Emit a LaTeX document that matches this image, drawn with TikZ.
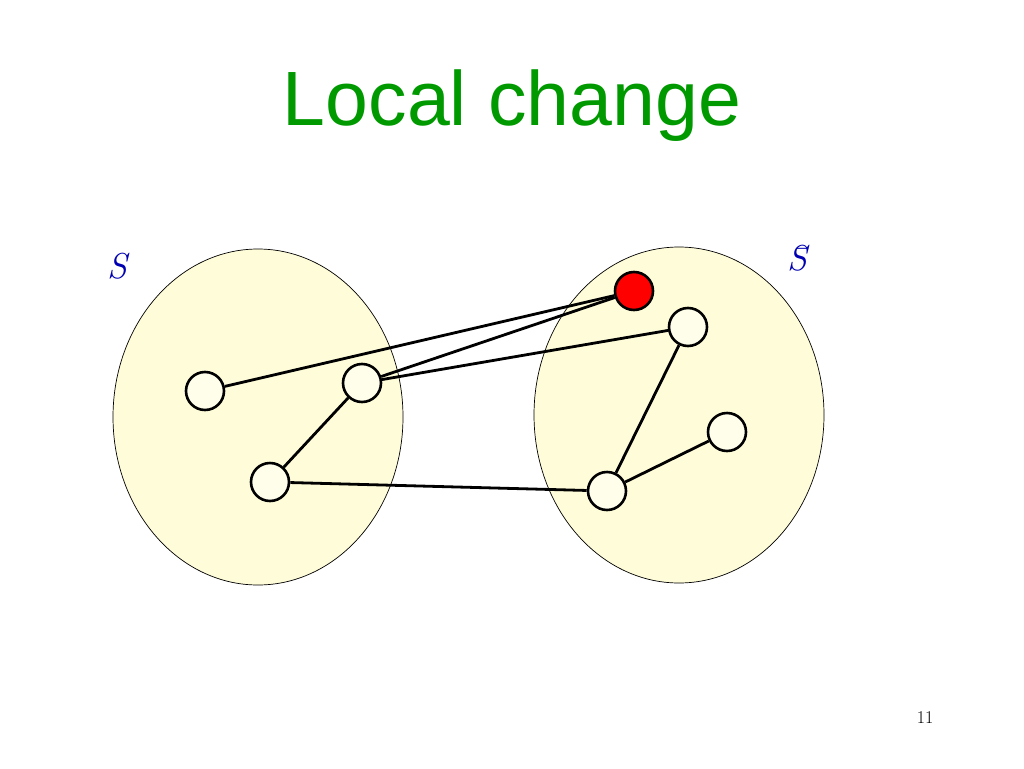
\documentclass[tikz,border=0pt]{standalone}
\usepackage{fontspec}
\newfontfamily\titlefont{Liberation Sans}
\begin{document}
\begin{tikzpicture}[x=1pt,y=-1pt,
  vtx/.style={circle,draw,line width=2.6pt,fill=yellow!8,minimum size=38pt,inner sep=0pt},
  edge/.style={line width=2.8pt},
  setshape/.style={draw,line width=0.7pt,fill=yellow!15}]
\useasboundingbox (0,0) rectangle (1024,768);
\node[text=green!60!black,font=\titlefont\fontsize{77}{84}\selectfont] (title) at (512,106) {Local change};
\draw[setshape] (258,417) ellipse [x radius=145,y radius=168];
\draw[setshape] (679,415) ellipse [x radius=145,y radius=168];
\node[text=blue!70!black,font=\fontsize{36}{40}\selectfont\itshape] (ls) at (117,266) {S};
\node[text=blue!70!black,font=\fontsize{36}{40}\selectfont\itshape] (lsb) at (797,258) {\={S}};
\node[font=\fontsize{18}{20}\selectfont] (pg) at (925,718) {11};
\node[vtx] (a) at (205,391) {};
\node[vtx] (b) at (362,383) {};
\node[vtx] (c) at (270,482) {};
\node[vtx,fill=red] (r) at (634,291) {};
\node[vtx] (d) at (688,327) {};
\node[vtx] (e) at (727,432) {};
\node[vtx] (f) at (607,491) {};
\draw[edge] (a) -- (r);
\draw[edge] (b) -- (r);
\draw[edge] (b) -- (d);
\draw[edge] (b) -- (c);
\draw[edge] (c) -- (f);
\draw[edge] (f) -- (d);
\draw[edge] (f) -- (e);
\end{tikzpicture}
\end{document}
